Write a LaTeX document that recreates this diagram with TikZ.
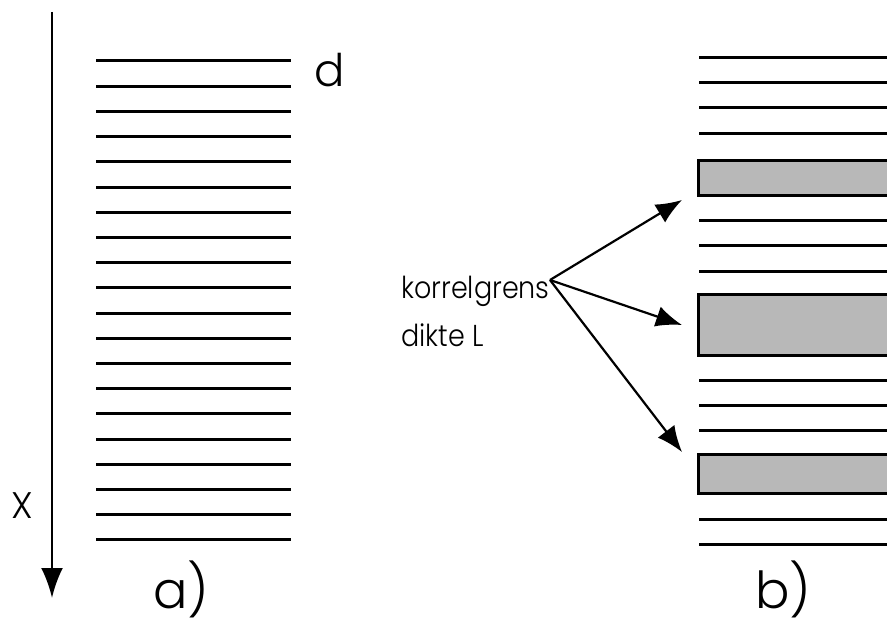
\documentclass[tikz,border=0pt]{standalone}
\usepackage{fontspec}
\setmainfont{Poppins}[UprightFont=* Light]
\usetikzlibrary{arrows.meta}
\tikzset{
  layer/.style={line width=3pt},
  grainb/.style={draw, line width=3pt, fill=black!28},
  lbl/.style={inner sep=0pt, anchor=base west},
  ptr/.style={line width=2.2pt, -{Latex[length=26pt,width=21pt]}},
}
\begin{document}
\begin{tikzpicture}[x=1pt,y=-1pt]
\useasboundingbox (0,0) rectangle (887,626);
\clip (0,0) rectangle (887,626);
% panel a
\foreach \i in {0,...,19}{
  \draw[layer] (96,{61+\i*25.2}) -- (291,{61+\i*25.2});
}
\coordinate (xs) at (52,12);
\coordinate (xe) at (52,598);
\draw[line width=2.8pt, -{Latex[length=30pt,width=22pt]}] (xs) -- (xe);
\node[lbl] (d) at (314,87) {\fontsize{45}{54}\selectfont d};
\node[lbl] (X) at (11,518) {\fontsize{37}{44}\selectfont X};
\node[lbl] (a) at (153,608) {\fontsize{51}{62}\selectfont a)};
% panel b
\foreach \y in {57.3,82.3,107.7,133.3,220,245.7,271,380,405,430.7,519,544.3}{
  \draw[layer] (699,\y) -- (900,\y);
}
\draw[grainb] (698,160.7) rectangle (900,195.7);
\draw[grainb] (698,294) rectangle (900,355);
\draw[grainb] (698,454) rectangle (900,493.3);
\node[lbl] (k) at (401,298) {\fontsize{27}{33}\selectfont\scalebox{1}[1.12]{korrelgrens}};
\node[lbl] (dl) at (401,346) {\fontsize{27}{33}\selectfont\scalebox{1}[1.12]{dikte L}};
\node[lbl] (b) at (755,608) {\fontsize{51}{62}\selectfont b)};
\coordinate (src) at (550,280);
\coordinate (t1) at (682,200);
\coordinate (t2) at (682,325);
\coordinate (t3) at (682,452);
\draw[ptr] (src) -- (t1);
\draw[ptr] (src) -- (t2);
\draw[ptr] (src) -- (t3);
\end{tikzpicture}
\end{document}
